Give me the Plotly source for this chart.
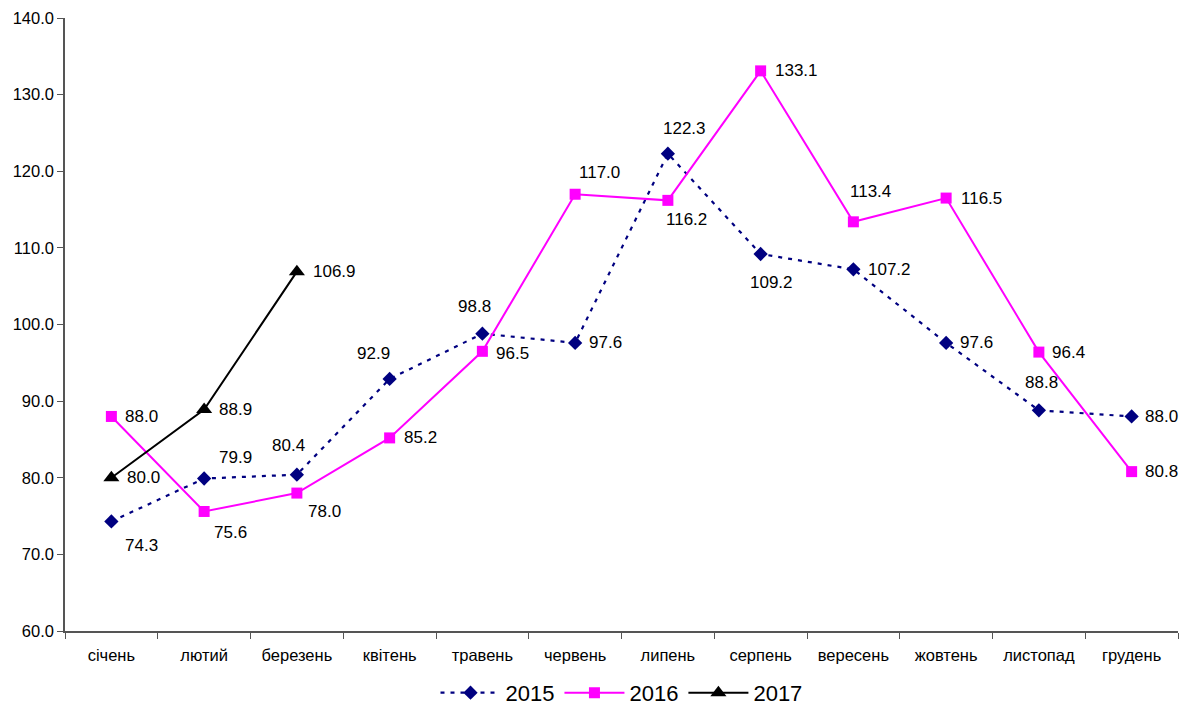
import plotly.graph_objects as go

months = ["січень", "лютий", "березень", "квітень", "травень", "червень",
          "липень", "серпень", "вересень", "жовтень", "листопад", "грудень"]

y2015 = [74.3, 79.9, 80.4, 92.9, 98.8, 97.6, 122.3, 109.2, 107.2, 97.6, 88.8, 88.0]
y2016 = [88.0, 75.6, 78.0, 85.2, 96.5, 117.0, 116.2, 133.1, 113.4, 116.5, 96.4, 80.8]
y2017 = [80.0, 88.9, 106.9]

# label placement per point: (anchor, x shift px, y shift px)
lab2015 = [("left", 12, -24), ("left", 13, 21), ("center", -8, 29), ("center", -16, 25),
           ("center", -8, 27), ("left", 12, 0), ("center", 17, 25), ("center", 11, -28),
           ("left", 13, 0), ("left", 12, 0), ("center", 3, 28), ("left", 11, 0)]
lab2016 = [("left", 12, 0), ("center", 26, -21), ("center", 28, -18), ("left", 12, 0),
           ("left", 12, -2), ("center", 24, 22), ("center", 19, -19), ("left", 12, 0),
           ("center", 17, 30), ("left", 13, 0), ("left", 11, 0), ("left", 11, 0)]
lab2017 = [("left", 14, 0), ("left", 13, 0), ("left", 14, 0)]

FONT = "Liberation Sans, Arial, sans-serif"

fig = go.Figure()
fig.add_trace(go.Scatter(
    x=months, y=y2015, name="2015", mode="lines+markers",
    line=dict(color="#000080", width=2.2, dash="4px,6px"),
    marker=dict(symbol="diamond", size=11, color="#000080"),
))
fig.add_trace(go.Scatter(
    x=months, y=y2016, name="2016", mode="lines+markers",
    line=dict(color="#FF00FF", width=2),
    marker=dict(symbol="square", size=11, color="#FF00FF"),
))
fig.add_trace(go.Scatter(
    x=months[:len(y2017)], y=y2017, name="2017", mode="lines+markers",
    line=dict(color="#000000", width=2),
    marker=dict(symbol="triangle-up", size=14, color="#000000"),
))

annotations = []
for vals, labs in ((y2015, lab2015), (y2016, lab2016), (y2017, lab2017)):
    for m, v, (anc, dx, dy) in zip(months, vals, labs):
        annotations.append(dict(
            x=m, y=v, xref="x", yref="y", text=f"{v:.1f}", showarrow=False,
            xanchor=anc, yanchor="middle", xshift=dx, yshift=dy,
            font=dict(family=FONT, size=17, color="#000000"),
        ))

fig.update_layout(
    width=1183, height=709,
    margin=dict(l=65, r=5, t=18, b=78, autoexpand=False),
    paper_bgcolor="white", plot_bgcolor="white",
    font=dict(family=FONT, size=16, color="#000000"),
    showlegend=True,
    legend=dict(orientation="h", x=0.5, xanchor="center", y=-0.101, yanchor="middle",
                font=dict(size=22), itemwidth=60, tracegroupgap=0),
    annotations=annotations,
)
fig.update_xaxes(
    type="category", range=[-0.5, 11.5], tickson="boundaries",
    showline=True, linecolor="#555555", linewidth=1.5,
    ticks="outside", ticklen=6, tickcolor="#555555", ticklabelstandoff=8,
    showgrid=False, zeroline=False, tickfont=dict(size=16.5),
)
fig.update_yaxes(
    range=[60, 140], dtick=10, tickformat=".1f",
    showline=True, linecolor="#555555", linewidth=1.5,
    ticks="outside", ticklen=6, tickcolor="#555555",
    showgrid=False, zeroline=False, tickfont=dict(size=16.5),
)

fig.write_html("out.html")
